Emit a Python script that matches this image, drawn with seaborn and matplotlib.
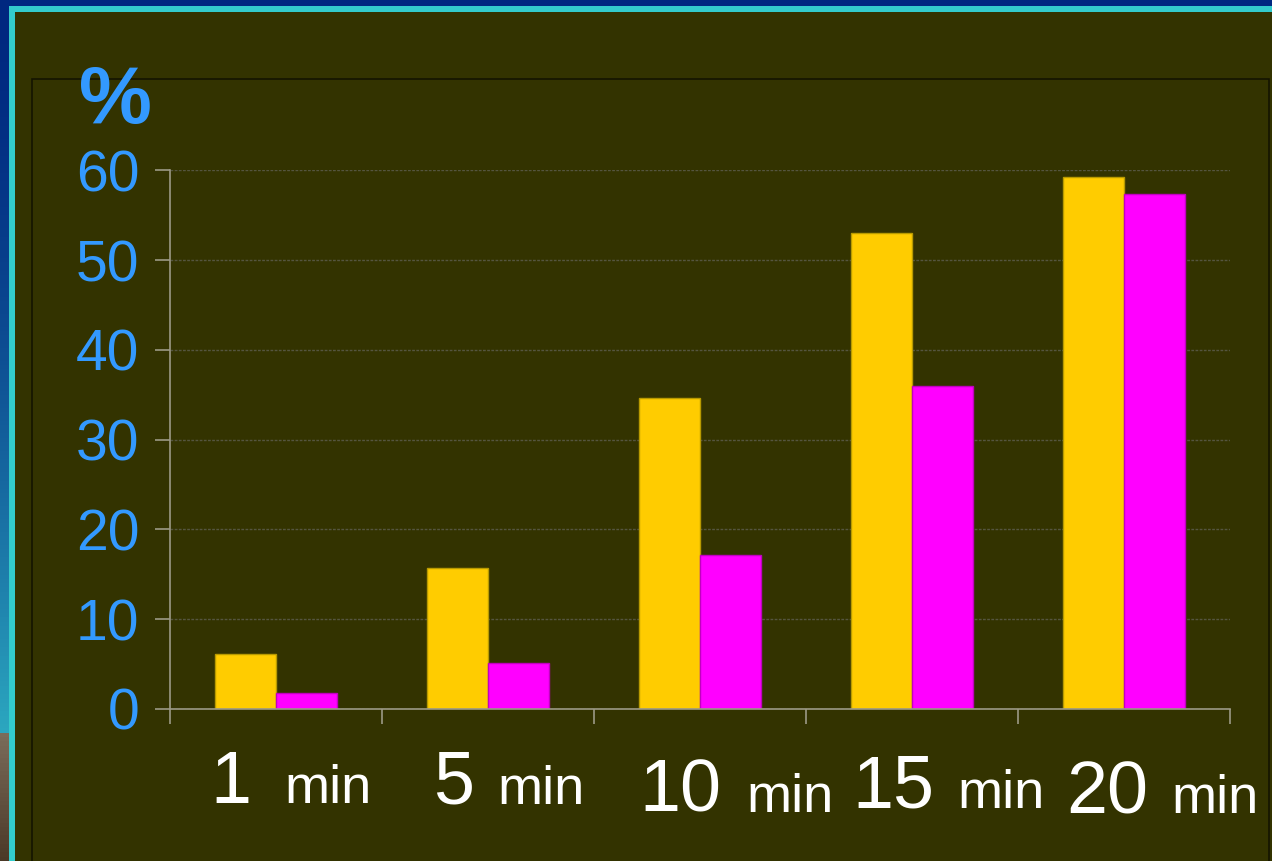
import numpy as np
import pandas as pd
import matplotlib
matplotlib.use('Agg')
import matplotlib.pyplot as plt
import matplotlib.transforms as mtransforms
from matplotlib.patches import Rectangle
import seaborn as sns

# data
times = ['1 min', '5 min', '10 min', '15 min', '20 min']
numbers = ['1', '5', '10', '15', '20']
series_a = [6.1, 15.7, 34.6, 53.0, 59.3]
series_b = [1.8, 5.1, 17.2, 36.0, 57.4]
series_names = ['A', 'B']
yticks = [0, 10, 20, 30, 40, 50, 60]

# label layout, in pixels of the 1272x861 picture
num_right_px = [251, 474, 721, 934, 1148]
min_left_px = [284, 497, 746, 957, 1171]
base_px = [803, 804, 812, 808, 813]

BG = '#333300'
BLUE = '#3399FF'
W, H = 1272, 861

df = pd.DataFrame({
    'time': times * 2,
    'series': [series_names[0]] * 5 + [series_names[1]] * 5,
    'value': series_a + series_b,
})

sns.set_style('white')
plt.rcParams['font.family'] = ['Liberation Sans', 'DejaVu Sans']

fig = plt.figure(figsize=(W / 100, H / 100), dpi=100, facecolor=BG)

# slide decorations: blue band, cyan line, inner frame
fig.add_artist(Rectangle((0, 1 - 6 / H), 1, 6 / H, transform=fig.transFigure,
                         facecolor='#002880', edgecolor='none'))
fig.add_artist(Rectangle((9 / W, 1 - 12 / H), 1, 6 / H, transform=fig.transFigure,
                         facecolor='#33CCCC', edgecolor='none'))
fig.add_artist(Rectangle((9 / W, 0), 6 / W, 1 - 6 / H, transform=fig.transFigure,
                         facecolor='#33CCCC', edgecolor='none'))
bax = fig.add_axes([0, 0, 9 / W, 1 - 6 / H])
bax.axis('off')
grad = np.zeros((200, 1, 3))
cut = int(200 * 730 / 855)
top = np.array([0x00, 0x28, 0x80]) / 255
mid = np.array([0x2c, 0xa8, 0xc0]) / 255
br1 = np.array([0x7a, 0x6c, 0x5a]) / 255
br2 = np.array([0x4a, 0x38, 0x26]) / 255
for r in range(200):
    if r < cut:
        t = (r / cut) ** 1.6
        grad[r, 0] = top * (1 - t) + mid * t
    else:
        t = (r - cut) / (200 - cut)
        grad[r, 0] = br1 * (1 - t) + br2 * t
bax.imshow(grad, aspect='auto', extent=[0, 1, 0, 1])
fig.add_artist(Rectangle((32 / W, -0.05), (1269 - 32) / W, 1.05 - 79 / H,
                         transform=fig.transFigure, facecolor='none',
                         edgecolor='#141400', linewidth=1.2))

ax = fig.add_axes([170 / W, 1 - 709 / H, 1060 / W, (709 - 170.3) / H])
ax.set_facecolor('none')

sns.barplot(data=df, x='time', y='value', hue='series', order=times,
            hue_order=series_names, palette=['#FFCC00', '#FF00FF'],
            width=0.58, gap=0, ax=ax, linewidth=1.0, saturation=1)
for cont, ec in zip(ax.containers, ['#B89A00', '#C000C0']):
    for p in cont:
        p.set_edgecolor(ec)
if ax.get_legend() is not None:
    ax.get_legend().remove()

ax.set_xlim(-0.5, 4.5)
ax.set_ylim(0, 60)
ax.set_yticks(yticks)
ax.set_yticklabels([str(v) for v in yticks])
ax.set_xticks(range(len(times)))
ax.set_xticklabels([''] * len(times))
ax.set_xticks(np.arange(-0.5, 5, 1), minor=True)
ax.set_xlabel('')
ax.set_ylabel('')

ax.yaxis.grid(True, color='#55553f', linestyle=(0, (2, 1)), linewidth=1.0)
ax.set_axisbelow(True)
for s in ['top', 'right']:
    ax.spines[s].set_visible(False)
for s in ['left', 'bottom']:
    ax.spines[s].set_color('#9c9a86')
    ax.spines[s].set_linewidth(1.2)

ax.tick_params(axis='y', which='major', length=11, width=1.2, color='#9c9a86',
               direction='out', left=True, pad=11, labelsize=41, labelcolor=BLUE)
ax.tick_params(axis='x', which='major', length=0, bottom=False)
ax.tick_params(axis='x', which='minor', length=11, width=1.2, color='#9c9a86',
               direction='out', bottom=True)

# category labels: big number plus smaller "min"
tr = mtransforms.blended_transform_factory(ax.transData, ax.transAxes)
span = 709 - 170.3
for num, nr, ml, bp in zip(numbers, num_right_px, min_left_px, base_px):
    y = (709 - bp) / span
    ax.text((nr - 170) / 212 - 0.5, y, num, transform=tr, ha='right',
            va='baseline', fontsize=53, color='white', clip_on=False)
    ax.text((ml - 170) / 212 - 0.5, y, 'min', transform=tr, ha='left',
            va='baseline', fontsize=39, color='white', clip_on=False)

fig.text(79 / W, 1 - 123 / H, '%', fontsize=59, fontweight='bold', color=BLUE,
         ha='left', va='baseline')

fig.savefig('out.png', dpi=100, facecolor=BG)
